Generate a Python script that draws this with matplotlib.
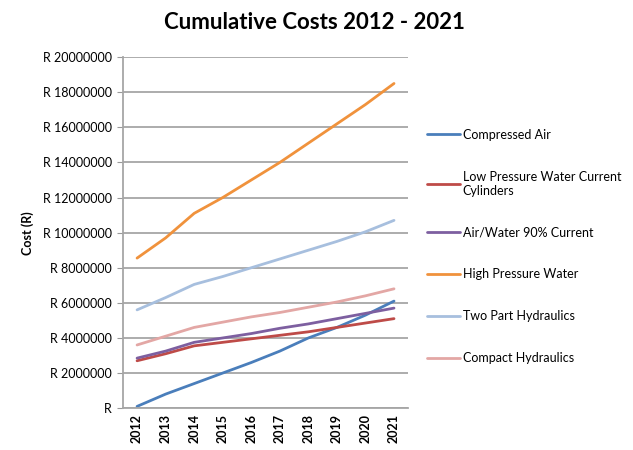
import matplotlib
matplotlib.use("Agg")
import matplotlib.pyplot as plt
from matplotlib.ticker import FuncFormatter

years = [2012, 2013, 2014, 2015, 2016, 2017, 2018, 2019, 2020, 2021]

# cumulative cost in Rand
compressed_air = [100000, 800000, 1400000, 2000000, 2600000, 3250000, 4000000, 4600000, 5300000, 6100000]
low_pressure = [2700000, 3100000, 3550000, 3750000, 3950000, 4150000, 4350000, 4600000, 4850000, 5100000]
air_water = [2850000, 3250000, 3750000, 4000000, 4250000, 4550000, 4800000, 5100000, 5400000, 5700000]
high_pressure = [8550000, 9700000, 11100000, 12000000, 13000000, 14000000, 15100000, 16200000, 17300000, 18500000]
two_part = [5600000, 6300000, 7050000, 7500000, 8000000, 8500000, 9000000, 9500000, 10050000, 10700000]
compact = [3600000, 4100000, 4600000, 4900000, 5200000, 5450000, 5750000, 6050000, 6400000, 6800000]

series = [
    ("Compressed Air", compressed_air, "#4A7EBB"),
    ("Low Pressure Water Current\nCylinders", low_pressure, "#BE4B48"),
    ("Air/Water 90% Current", air_water, "#7D5FA0"),
    ("High Pressure Water", high_pressure, "#F0923C"),
    ("Two Part Hydraulics", two_part, "#A7BFDE"),
    ("Compact Hydraulics", compact, "#E3A7A5"),
]

plt.rcParams['font.family'] = ['Lato', 'DejaVu Sans']

fig = plt.figure(figsize=(6.33, 4.5), dpi=100)
ax = fig.add_axes([0.194, 0.093, 0.451, 0.78])

for label, vals, col in series:
    ax.plot(years, vals, color=col, lw=2.0, label=label, solid_capstyle='round')

ax.set_xlim(2011.5, 2021.5)
ax.set_ylim(0, 20000000)
ax.set_yticks(range(0, 20000001, 2000000))
ax.set_xticks(years)
ax.yaxis.set_major_formatter(FuncFormatter(lambda v, p: "R" if v == 0 else "R %d" % v))
ax.set_xticklabels([str(y) for y in years], rotation=90, fontsize=9, fontweight='bold')
ax.tick_params(axis='y', labelsize=9, length=4, color='#999999', pad=4)
ax.tick_params(axis='x', length=0, pad=4)

ax.grid(axis='y', color='#A6A6A6', lw=1.3)
ax.set_axisbelow(True)
for s in ['top', 'right']:
    ax.spines[s].set_visible(False)
for s in ['left', 'bottom']:
    ax.spines[s].set_color('#A6A6A6')
    ax.spines[s].set_linewidth(1.3)

ax.set_ylabel("Cost (R)", fontsize=9, fontweight='bold', labelpad=6)
fig.text(0.497, 0.95, "Cumulative Costs 2012 - 2021", ha='center', va='center',
         fontsize=16, fontweight='bold')

ax.legend(loc='upper left', bbox_to_anchor=(0.667, 0.725), bbox_transform=fig.transFigure,
          frameon=False, fontsize=9, handlelength=2.6, handletextpad=0.25,
          labelspacing=2.39, borderaxespad=0)

fig.savefig("out.png", dpi=100)
